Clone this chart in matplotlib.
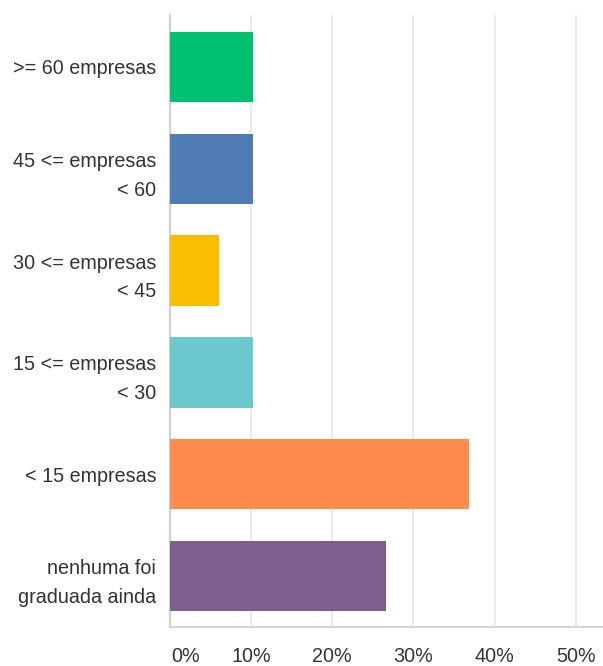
import matplotlib
matplotlib.use('Agg')
import matplotlib.pyplot as plt

# data
categories = ['>= 60 empresas', '45 <= empresas\n< 60', '30 <= empresas\n< 45',
              '15 <= empresas\n< 30', '< 15 empresas', 'nenhuma foi\ngraduada ainda']
values = [10.3, 10.3, 6.1, 10.3, 36.8, 26.6]
colors = ['#00BF6F', '#507CB6', '#F9BE00', '#6BC8CD', '#FF8B4F', '#7D5E90']
xticks = [0, 10, 20, 30, 40, 50]
xticklabels = ['0%', '10%', '20%', '30%', '40%', '50%']

plt.rcParams['font.family'] = ['Liberation Sans', 'DejaVu Sans']

fig = plt.figure(figsize=(6.03, 6.66), dpi=100)
ax = fig.add_axes([169.5 / 603, 1 - 627 / 666, (603 - 169.5) / 603, (627 - 15) / 666])

ypos = list(range(len(categories)))
ax.barh(ypos, values, height=0.69, color=colors, zorder=3)

ax.set_xlim(0, 53.3)
ax.set_ylim(5.5, -0.51)
ax.set_xticks(xticks)
ax.set_xticklabels([])
ax.set_yticks(ypos)
ax.set_yticklabels(categories, fontsize=14.2, color='#333333', linespacing=1.65, ha='right')
ax.tick_params(axis='y', length=0, pad=9.5)
ax.tick_params(axis='x', length=0)

ax.grid(axis='x', color='#e8e8e8', lw=1.3, zorder=0)
for s in ['top', 'right']:
    ax.spines[s].set_visible(False)
ax.spines['left'].set_color('#cfcfcf')
ax.spines['left'].set_linewidth(1.5)
ax.spines['bottom'].set_color('#d5d5d5')
ax.spines['bottom'].set_linewidth(1.5)

# tick labels placed like the reference (0% nudged right), 30 px below axis
off = -30 * 0.72
for x, lab in zip(xticks, xticklabels):
    ha = 'left' if x == 0 else 'center'
    dx = 1 if x == 0 else 0
    ax.annotate(lab, xy=(x, 0), xycoords=('data', 'axes fraction'), xytext=(dx, off),
                textcoords='offset points', ha=ha, va='center', fontsize=14.2, color='#333333')

fig.savefig('out.png', dpi=100, facecolor='white')
